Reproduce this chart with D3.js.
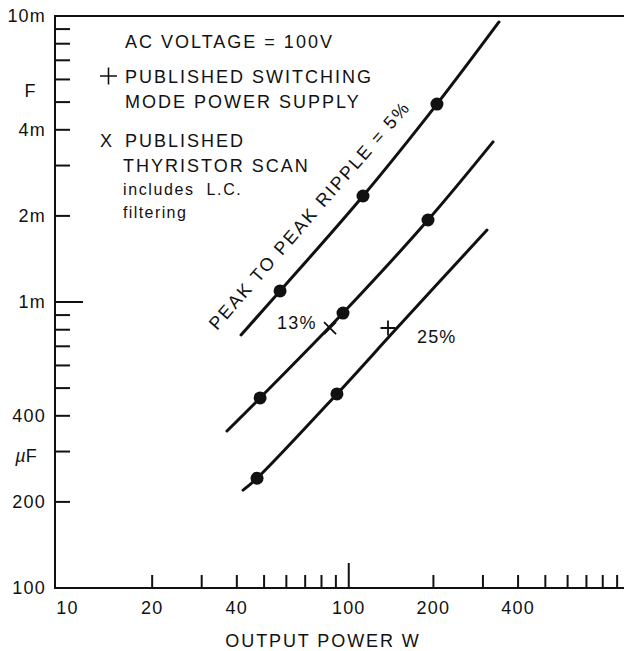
<!DOCTYPE html>
<html>
<head>
<meta charset="utf-8">
<script src="https://cdn.jsdelivr.net/npm/d3@7"></script>
<style>
  html, body { margin: 0; padding: 0; background: #fff; }
  svg { display: block; }
  text { font-family: "Liberation Sans", Arial, Helvetica, sans-serif; fill: #111; }
</style>
</head>
<body>
<svg id="chart" width="624" height="651"></svg>
<script>
// ---------- data (W = output power in watts, C = capacitance in µF) ----------
const ripple5W  = [41.4, 57.0, 112.4, 205.9, 342.1];
const ripple5C  = [767, 1093, 2348, 4920, 9530];
const ripple13W = [36.9, 48.4, 95.4, 191.3, 325.8];
const ripple13C = [354, 462, 915, 1935, 3630];
const ripple25W = [42.1, 47.2, 90.8, 148.4, 310.1];
const ripple25C = [220, 242, 477, 811, 1785];

const dots5W  = [57.0, 112.4, 205.9];
const dots5C  = [1093, 2348, 4920];
const dots13W = [48.4, 95.4, 191.3];
const dots13C = [462, 915, 1935];
const dots25W = [47.2, 90.8];
const dots25C = [242, 477];

const thyristorW = [85.8];   // "X" published thyristor scan
const thyristorC = [811];
const smpsW = [137.9];       // "+" published switching mode power supply
const smpsC = [811];

const xTickLabels = [10, 20, 40, 100, 200, 400];
const xMinorTicks = [20, 30, 40, 50, 60, 70, 80, 90, 200, 300, 400, 500, 600, 700, 800, 900];
const xMajorTicks = [100];
const yMinorTicks = [200, 300, 400, 500, 600, 700, 800, 900, 2000, 3000, 4000, 5000, 6000, 7000, 8000, 9000];
const yMajorTicks = [1000];
const yTickValues = [100, 200, 400, 1000, 2000, 4000, 10000];
const yTickLabels = ["100", "200", "400", "1m", "2m", "4m", "10m"];
const yUnitLabels = ["F", "µF"];
const yUnitValues = [5500, 290];

// ---------- scales ----------
const svg = d3.select("#chart");
const x = d3.scaleLog().domain([10, 1000]).range([67.5, 630]);
const y = d3.scaleLog().domain([100, 10000]).range([588, 16]);

const frameL = 55, frameR = 624;
const ink = "#111";

// frame
svg.append("path")
  .attr("d", `M${frameR},${y(10000)}H${frameL}V${y(100)}H${frameR}`)
  .attr("fill", "none").attr("stroke", ink).attr("stroke-width", 2);

// y ticks
svg.selectAll(".ytm").data(yMinorTicks).join("line")
  .attr("x1", frameL).attr("x2", frameL + 15)
  .attr("y1", d => y(d)).attr("y2", d => y(d))
  .attr("stroke", ink).attr("stroke-width", 2);
svg.selectAll(".ytM").data(yMajorTicks).join("line")
  .attr("x1", frameL).attr("x2", frameL + 28)
  .attr("y1", d => y(d)).attr("y2", d => y(d))
  .attr("stroke", ink).attr("stroke-width", 2);

// x ticks
svg.selectAll(".xtm").data(xMinorTicks).join("line")
  .attr("x1", d => x(d)).attr("x2", d => x(d))
  .attr("y1", y(100)).attr("y2", y(100) - 13)
  .attr("stroke", ink).attr("stroke-width", 2);
svg.selectAll(".xtM").data(xMajorTicks).join("line")
  .attr("x1", d => x(d)).attr("x2", d => x(d))
  .attr("y1", y(100)).attr("y2", y(100) - 25)
  .attr("stroke", ink).attr("stroke-width", 2);

const fs = 18, ls = 1.2, lsCaps = 2.0;

// y tick labels
svg.selectAll(".ylab").data(yTickValues).join("text")
  .attr("x", 46).attr("y", d => y(d))
  .attr("dy", "0.36em")
  .attr("text-anchor", "end")
  .attr("font-size", fs).attr("letter-spacing", ls)
  .text((d, i) => yTickLabels[i]);

// unit labels
yUnitLabels.forEach((u, i) => {
  const t = svg.append("text")
    .attr("x", i === 0 ? 30 : 26).attr("y", y(yUnitValues[i]))
    .attr("dy", "0.36em").attr("text-anchor", "middle")
    .attr("font-size", fs);
  if (u.startsWith("µ")) {
    t.append("tspan").attr("font-style", "italic").text("µ");
    t.append("tspan").text(u.slice(1));
  } else t.text(u);
});

// x tick labels
svg.selectAll(".xlab").data(xTickLabels).join("text")
  .attr("x", d => x(d)).attr("y", 614)
  .attr("text-anchor", "middle")
  .attr("font-size", fs).attr("letter-spacing", ls)
  .text(d => d);

// x axis title
svg.append("text")
  .attr("x", 323).attr("y", 647)
  .attr("text-anchor", "middle")
  .attr("font-size", fs).attr("letter-spacing", 1.9)
  .text("OUTPUT POWER W");

// ---------- curves ----------
const line = d3.line().x(d => x(d[0])).y(d => y(d[1])).curve(d3.curveCatmullRom.alpha(0.5));
const series = [
  [ripple5W, ripple5C],
  [ripple13W, ripple13C],
  [ripple25W, ripple25C]
];
series.forEach(([W, C]) => {
  svg.append("path")
    .datum(W.map((w, i) => [w, C[i]]))
    .attr("d", line)
    .attr("fill", "none").attr("stroke", ink)
    .attr("stroke-width", 3).attr("stroke-linecap", "round");
});

// dots
[[dots5W, dots5C], [dots13W, dots13C], [dots25W, dots25C]].forEach(([W, C]) => {
  svg.selectAll(null).data(W.map((w, i) => [w, C[i]])).join("circle")
    .attr("cx", d => x(d[0])).attr("cy", d => y(d[1]))
    .attr("r", 6.5).attr("fill", ink);
});

// X markers
thyristorW.forEach((w, i) => {
  const cx = x(w), cy = y(thyristorC[i]), h = 6;
  svg.append("path")
    .attr("d", `M${cx - h},${cy - h}L${cx + h},${cy + h}M${cx - h},${cy + h}L${cx + h},${cy - h}`)
    .attr("stroke", ink).attr("stroke-width", 1.8);
});
// + markers
smpsW.forEach((w, i) => {
  const cx = x(w), cy = y(smpsC[i]), h = 7.5;
  svg.append("path")
    .attr("d", `M${cx - h},${cy}H${cx + h}M${cx},${cy - h}V${cy + h}`)
    .attr("stroke", ink).attr("stroke-width", 1.8);
});

// curve labels
const rlx = x(34.0), rly = y(791);
svg.append("text")
  .attr("transform", `translate(${rlx},${rly}) rotate(-49)`)
  .attr("font-size", fs).attr("letter-spacing", 2.1)
  .text("PEAK TO PEAK RIPPLE = 5%");
svg.append("text")
  .attr("x", x(55.6)).attr("y", y(804))
  .attr("font-size", fs).attr("letter-spacing", ls)
  .text("13%");
svg.append("text")
  .attr("x", x(174.8)).attr("y", y(719))
  .attr("font-size", fs).attr("letter-spacing", ls)
  .text("25%");

// ---------- legend / notes ----------
svg.append("text").attr("x", 125).attr("y", 48)
  .attr("font-size", fs).attr("letter-spacing", lsCaps)
  .text("AC VOLTAGE = 100V");
svg.append("path")
  .attr("d", "M100,76H117M108.5,67.5V84.5")
  .attr("stroke", ink).attr("stroke-width", 1.6);
svg.append("text").attr("x", 125).attr("y", 83)
  .attr("font-size", fs).attr("letter-spacing", lsCaps)
  .text("PUBLISHED SWITCHING");
svg.append("text").attr("x", 125).attr("y", 108)
  .attr("font-size", fs).attr("letter-spacing", lsCaps)
  .text("MODE POWER SUPPLY");
svg.append("text").attr("x", 100).attr("y", 147)
  .attr("font-size", fs).attr("letter-spacing", lsCaps)
  .text("X");
svg.append("text").attr("x", 125).attr("y", 147)
  .attr("font-size", fs).attr("letter-spacing", lsCaps)
  .text("PUBLISHED");
svg.append("text").attr("x", 123).attr("y", 172)
  .attr("font-size", fs).attr("letter-spacing", lsCaps)
  .text("THYRISTOR SCAN");
svg.append("text").attr("x", 123).attr("y", 195)
  .attr("font-size", 16).attr("letter-spacing", 1.6)
  .style("white-space", "pre")
  .text("includes  L.C.");
svg.append("text").attr("x", 123).attr("y", 218)
  .attr("font-size", 16).attr("letter-spacing", 1.4)
  .text("filtering");
</script>
</body>
</html>
